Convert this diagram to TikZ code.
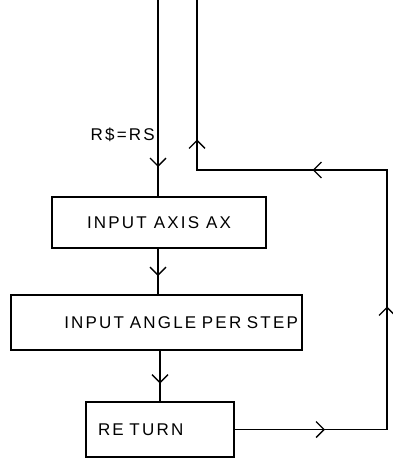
\documentclass[tikz,border=0pt]{standalone}
\usepackage{fontspec}
\setmainfont{Liberation Sans}[LetterSpace=13]
\usetikzlibrary{arrows.meta,decorations.markings}

\begin{document}
\begin{tikzpicture}[x=1pt, y=-1pt,
      box/.style={draw, line width=2pt, inner sep=0pt, align=center,
                  font=\fontsize{17}{20}\selectfont},
      vbarb/.tip={Straight Barb[length=8pt, width=16pt, line width=1.4pt]},
      flow/.style={line width=1.4pt, postaction={decorate}},
      barbat/.style={decoration={markings,
                  mark=at position #1 with {\arrow{vbarb}}}}]

    \useasboundingbox (0,0) rectangle (392,460);

    \node[box, minimum width=214pt, minimum height=51pt] (axis) at (159,222.5)
      {INPUT AXIS AX};
    \node[box, minimum height=55pt, text width=283pt, inner xsep=4pt, align=right]
      (angle) at (156.5,322.5) {INPUT ANGLE PER STEP};
    \node[box, minimum height=55pt, text width=124pt, inner xsep=12pt, align=left]
      (ret) at (160,429.5) {RE TURN};

    \node[font=\fontsize{17}{20}\selectfont, anchor=east, inner sep=0pt] (lbl)
      at (155,135) {R\$=RS};

    \coordinate (in) at (158,0);
    \coordinate (out) at (197,0);
    \coordinate (rb) at (387,429.5);
    \coordinate (rt) at (387,170);

    \draw[flow, barbat=167pt] (in) -- (in |- axis.north);
    \draw[flow, barbat=0.6] (axis.south -| in) -- (in |- angle.north);
    \draw[flow, barbat=0.65] (angle.south -| ret) -- (ret.north);
    \draw[flow, decoration={markings,
            mark=at position 90pt with {\arrow{vbarb}},
            mark=at position 275pt with {\arrow{vbarb}},
            mark=at position 486pt with {\arrow{vbarb}},
            mark=at position 632pt with {\arrow{vbarb}}}]
      (ret.east) -- (rb) -- (rt) -- (rt -| out) -- (out);
  \end{tikzpicture}
\end{document}
